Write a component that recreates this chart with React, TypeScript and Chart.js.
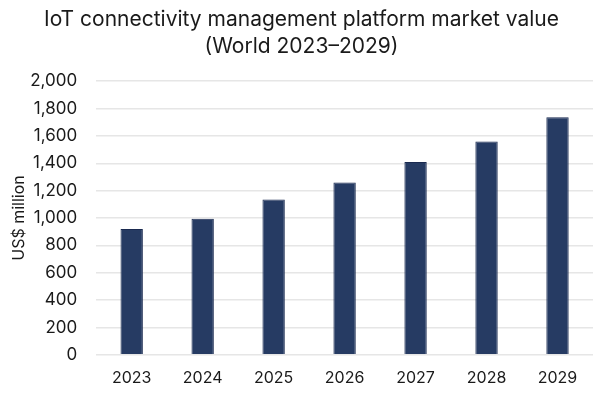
import React, { useEffect, useRef } from "react";
import { Chart, registerables } from "chart.js";

Chart.register(...registerables);

const years = ["2023", "2024", "2025", "2026", "2027", "2028", "2029"];
const marketValue = [920, 995, 1135, 1260, 1410, 1560, 1737];
const titleLines = ["IoT connectivity management platform market value", "(World 2023\u20132029)"];
const yAxisTitle = "US$ million";

const FONT = "Inter, 'Open Sans', sans-serif";

export default function App() {
  const ref = useRef<HTMLCanvasElement | null>(null);
  useEffect(() => {
    if (!ref.current) return;
    const chart = new Chart(ref.current, {
      type: "bar",
      data: {
        labels: years,
        datasets: [
          {
            data: marketValue,
            backgroundColor: "#263b63",
            borderColor: "#1a2a50",
            borderWidth: 1,
            categoryPercentage: 1,
            barPercentage: 0.315,
          },
        ],
      },
      options: {
        responsive: false,
        animation: false,
        layout: { padding: { left: 10, right: 7, top: 4, bottom: 6 } },
        plugins: {
          legend: { display: false },
          tooltip: { enabled: false },
          title: {
            display: true,
            text: titleLines,
            color: "#1a1a1a",
            font: { family: FONT, size: 21, weight: "normal", lineHeight: 1.29 },
            padding: { top: 2, bottom: 21 },
          },
        },
        scales: {
          x: {
            grid: { display: false },
            border: { display: false },
            ticks: { color: "#1a1a1a", font: { family: FONT, size: 16 }, padding: 6 },
          },
          y: {
            min: 0,
            max: 2000,
            ticks: {
              stepSize: 200,
              color: "#1a1a1a",
              font: { family: FONT, size: 17 },
              padding: 19,
              callback: (v: any) => Number(v).toLocaleString("en-US"),
            },
            grid: { color: "#e6e6e6", lineWidth: 1.5, drawTicks: false },
            border: { display: false },
            title: {
              display: true,
              text: yAxisTitle,
              color: "#1a1a1a",
              font: { family: FONT, size: 16 },
              padding: { top: 0, bottom: -18 },
            },
          },
        },
      },
    });
    return () => chart.destroy();
  }, []);
  return (
    <div style={{ position: "absolute", left: 0, top: 0, width: 600, height: 400, background: "#fff" }}>
      <canvas ref={ref} width={600} height={400} />
    </div>
  );
}
